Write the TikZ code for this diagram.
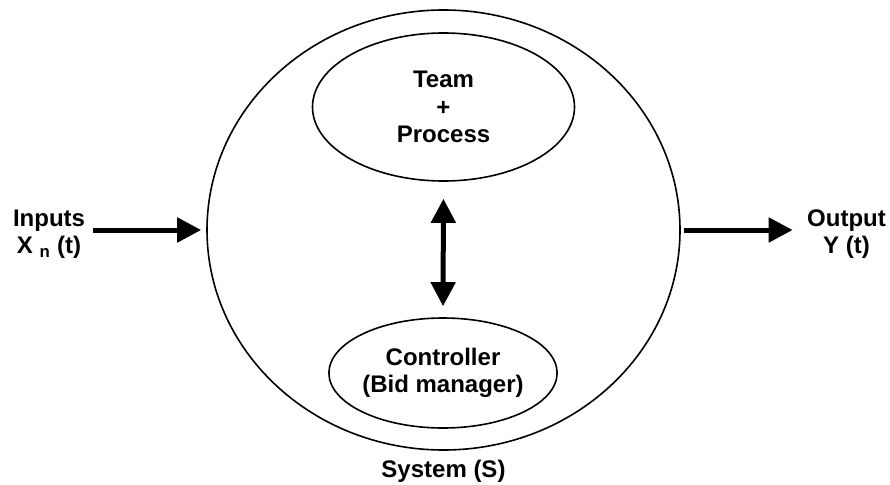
\documentclass[tikz,border=0pt]{standalone}
\usepackage{fontspec}
\setmainfont{Liberation Sans}
\usetikzlibrary{shapes.geometric,arrows.meta}

\tikzset{
  every node/.style={font=\fontsize{24}{27.5}\selectfont\bfseries, align=center},
  blob/.style={ellipse, draw, line width=1.6pt, inner sep=0pt},
  fat/.style={line width=5pt, -{Triangle[length=24pt,width=24pt]}},
  fatboth/.style={line width=5pt, {Triangle[length=24pt,width=24pt]}-{Triangle[length=24pt,width=24pt]}}
}

\begin{document}
\begin{tikzpicture}[x=1pt,y=-1pt]
 \useasboundingbox (0,0) rectangle (890,484);

% the system and what sits inside it
\node[blob, minimum width=473pt, minimum height=440pt,
      label={[label distance=6pt]below:System (S)}] (system) at (443.5,230) {};
\node[blob, minimum width=262pt, minimum height=148pt] (team) at (443.5,107) {Team\\+\\Process};
\node[blob, minimum width=220pt, minimum height=110pt] (ctrl) at (443,373) {Controller\\(Bid manager)};

% signals in and out
\node (inputs) at (49,234) {Inputs\\X \textsubscript{n} (t)};
\node (output) at (846.5,234) {Output\\Y (t)};

\draw[fat, shorten <=4pt, shorten >=5pt] (inputs.east |- system.west) -- (system.west);
\draw[fat, shorten <=3pt, shorten >=11pt] (system.east) -- (output.west |- system.east);
\draw[fatboth, shorten <=17pt, shorten >=11pt] (team.south) -- (ctrl.north);

\end{tikzpicture}
\end{document}
